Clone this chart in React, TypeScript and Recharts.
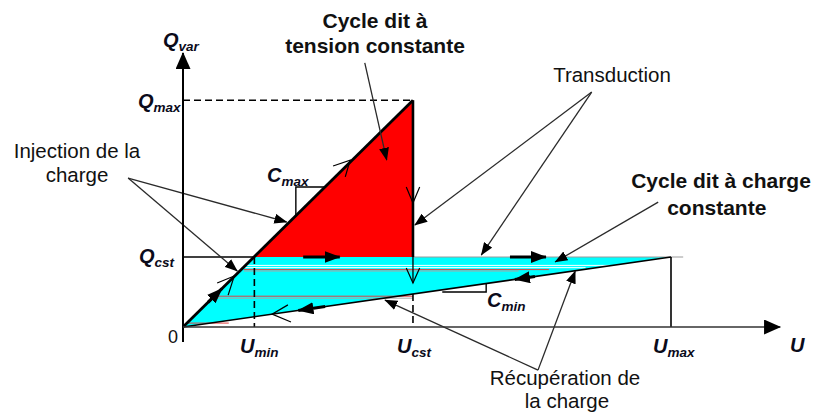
import React from "react";
import { ComposedChart, XAxis, YAxis, Area, Line, ReferenceDot } from "recharts";

// ---------- values (U : voltage, Q : charge, arbitrary units) ----------
const U_LEVELS = [1.17, 3.77, 8.0]; // Umin, Ucst, Umax
const Q_LEVELS = [2.5, 8.1]; // Qcst, Qmax

// constant-charge cycle (cyan) : range [low, high] at each U
const cyanU = [0, 1.17, 3.77, 8.0];
const cyanLow = [0, 0.37, 1.18, 2.5];
const cyanHigh = [0, 2.5, 2.5, 2.5];

// constant-voltage cycle (red)
const redU = [1.17, 3.77];
const redLow = [2.5, 2.5];
const redHigh = [2.5, 8.1];

// axes
const yAxisPts: [number, number][] = [[0, -0.54], [0, 9.79]];
const xAxisPts: [number, number][] = [[0, 0], [9.79, 0]];

// main curves
const cMaxLine: [number, number][] = [[0, 0], [3.77, 8.1]];
const cMinLine: [number, number][] = [[0, 0], [8.0, 2.5]];
const uCstThick: [number, number][] = [[3.77, 8.1], [3.77, 2.5]];
const uCstThin: [number, number][] = [[3.77, 2.5], [3.77, 1.57]];
const qCstLeft: [number, number][] = [[0, 2.5], [1.17, 2.5]];
const qCstRight: [number, number][] = [[3.77, 2.5], [8.2, 2.5]];
const uMaxLine: [number, number][] = [[8.0, 2.5], [8.0, 0]];

// dashed guides
const dashedGuides: [number, number][][] = [
  [[0, 8.1], [3.77, 8.1]],
  [[1.17, 2.5], [1.17, 0]],
  [[3.77, 1.18], [3.77, 0]],
];

// slope brackets
const brackets: [number, number][][] = [
  [[1.85, 4.0], [1.85, 5.0], [2.33, 5.0]],
  [[4.25, 1.25], [4.97, 1.25], [4.97, 1.55]],
];

// faint stripes inside the cyan region
const stripesWhite: [number, number][][] = [
  [[0.95, 2.2], [7.0, 2.2]],
  [[1.0, 2.12], [6.6, 2.12]],
];
const stripesRed: [number, number][][] = [
  [[1.0, 2.05], [6.0, 2.05]],
  [[0.56, 1.1], [3.77, 1.1]],
  [[0.05, 0.14], [0.75, 0.14]],
];
const stripesGrey: [number, number][][] = [
  [[1.0, 2.0], [5.5, 2.0]],
  [[0.56, 1.03], [3.77, 1.03]],
];

// cycle direction arrows (filled heads)
const cycleArrows: [number, number][][] = [
  [[0.41, 0.88], [0.64, 1.375]],
  [[1.97, 2.5], [2.57, 2.5]],
  [[5.36, 2.5], [5.95, 2.5]],
  [[5.77, 1.8], [5.44, 1.7]],
  [[2.33, 0.73], [1.89, 0.59]],
];

// open chevrons (arm, tip, arm)
const chevrons: [number, number][][] = [
  [[1.72, 0.79], [1.46, 0.46], [1.77, 0.18]],
  [[0.56, 1.57], [0.84, 1.82], [0.74, 1.14]],
  [[2.46, 5.75], [2.74, 5.96], [2.66, 5.36]],
  [[3.66, 5.0], [3.77, 4.43], [3.88, 5.0]],
  [[3.66, 2.11], [3.77, 1.57], [3.88, 2.11]],
];

// annotation pointers
const pointers: [number, number][][] = [
  [[2.98, 9.43], [3.34, 5.96]],
  [[6.7, 8.39], [4.89, 2.57]],
  [[6.7, 8.39], [3.8, 3.64]],
  [[7.79, 4.46], [6.1, 2.32]],
  [[-0.9, 5.32], [1.7, 3.75]],
  [[-0.9, 5.32], [0.89, 2.0]],
  [[5.82, -1.54], [3.31, 0.96]],
  [[5.82, -1.54], [6.43, 2.0]],
];

// symbol labels
const mathMain = ["Q", "Q", "Q", "U", "U", "U", "U", "C", "C"];
const mathSub = ["var", "max", "cst", "min", "cst", "max", "", "max", "min"];
const mathAnchors: [number, number][] = [
  [-0.328, 10.0], [-0.738, 7.82], [-0.721, 2.29],
  [0.934, -0.93], [3.508, -0.93], [7.705, -0.93], [9.951, -0.89],
  [1.377, 5.18], [4.984, 0.714],
];

// text labels
const textLines = [
  "Cycle dit à", "tension constante", "Transduction",
  "Cycle dit à charge", "constante", "Injection de la", "charge",
  "Récupération de", "la charge", "0",
];
const textBold = [true, true, false, true, true, false, false, false, false, false];
const textAnchors: [number, number][] = [
  [3.148, 10.68], [3.148, 9.79], [7.033, 8.75],
  [8.82, 4.96], [8.75, 4.0], [-1.738, 6.04], [-1.738, 5.18],
  [6.262, -2.07], [6.295, -2.89], [-0.164, -0.571],
];

// ---------- layout ----------
const W = 816;
const H = 416;
const X0 = 183, PXU = 61, Y0 = 327, PXQ = 28;
const xDomain: [number, number] = [-X0 / PXU, (W - X0) / PXU];
const yDomain: [number, number] = [-(H - Y0) / PXQ, Y0 / PXQ];
const FONT = "'Liberation Sans', Arial, Helvetica, sans-serif";

const chartData = cyanU.map((u, i) => {
  const j = redU.indexOf(u);
  return {
    u,
    cyan: [cyanLow[i], cyanHigh[i]],
    red: j >= 0 ? [redLow[j], redHigh[j]] : null,
  };
});

const toRows = (pts: [number, number][]) => pts.map(([u, q]) => ({ u, q }));

let lineKey = 0;
const seg = (pts: [number, number][], style: any) => (
  <Line
    key={`l${lineKey++}`}
    data={toRows(pts)}
    dataKey="q"
    type="linear"
    dot={false}
    activeDot={false}
    isAnimationActive={false}
    legendType="none"
    {...style}
  />
);

const Markers = () => (
  <svg width={0} height={0} style={{ position: "absolute", left: 0, top: 0 }}>
    <defs>
      <marker id="axisHead" viewBox="0 0 10 10" refX="9.5" refY="5" markerWidth="17" markerHeight="15"
        markerUnits="userSpaceOnUse" orient="auto" preserveAspectRatio="none">
        <path d="M0,0L10,5L0,10z" fill="#000" />
      </marker>
      <marker id="cycHead" viewBox="0 0 10 10" refX="9.5" refY="5" markerWidth="16" markerHeight="12"
        markerUnits="userSpaceOnUse" orient="auto" preserveAspectRatio="none">
        <path d="M0,0L10,5L0,10z" fill="#000" />
      </marker>
      <marker id="annHead" viewBox="0 0 10 10" refX="9.5" refY="5" markerWidth="13" markerHeight="10"
        markerUnits="userSpaceOnUse" orient="auto" preserveAspectRatio="none">
        <path d="M0,0L10,5L0,10z" fill="#000" />
      </marker>
    </defs>
  </svg>
);

export default function App() {
  lineKey = 0;
  return (
    <div style={{ position: "absolute", left: 0, top: 0, width: W, height: H, background: "#fff" }}>
      <Markers />
      <ComposedChart width={W} height={H} data={chartData} margin={{ top: 0, right: 0, bottom: 0, left: 0 }}>
        <XAxis dataKey="u" type="number" domain={xDomain} allowDataOverflow hide />
        <YAxis type="number" domain={yDomain} allowDataOverflow hide />

        <Area dataKey="red" type="linear" stroke="none" fill="#ff0000" fillOpacity={1} isAnimationActive={false} connectNulls={false} dot={false} activeDot={false} />
        <Area dataKey="cyan" type="linear" stroke="none" fill="#00ffff" fillOpacity={1} isAnimationActive={false} dot={false} activeDot={false} />

        {stripesGrey.map((p) => seg(p, { stroke: "#a8a8a8", strokeWidth: 1 }))}
        {stripesRed.map((p) => seg(p, { stroke: "#e04040", strokeWidth: 1 }))}
        {stripesWhite.map((p) => seg(p, { stroke: "#ffffff", strokeWidth: 1 }))}

        {dashedGuides.map((p) => seg(p, { stroke: "#000", strokeWidth: 1.6, strokeDasharray: "7 4" }))}

        {seg(qCstLeft, { stroke: "#000", strokeWidth: 1.6 })}
        {seg(qCstRight, { stroke: "#9a9a9a", strokeWidth: 1 })}
        {seg(uMaxLine, { stroke: "#000", strokeWidth: 1.6 })}
        {seg(cMinLine, { stroke: "#000", strokeWidth: 1.6 })}
        {seg(uCstThin, { stroke: "#000", strokeWidth: 1.3 })}
        {seg(uCstThick, { stroke: "#000", strokeWidth: 2.6 })}
        {seg(cMaxLine, { stroke: "#000", strokeWidth: 2.8 })}

        {brackets.map((p) => seg(p, { stroke: "#000", strokeWidth: 1.4 }))}

        {cycleArrows.map((p) => seg(p, { stroke: "#000", strokeWidth: 3, markerEnd: "url(#cycHead)" }))}
        {chevrons.map((p) => seg(p, { stroke: "#000", strokeWidth: 1.2 }))}
        {pointers.map((p) => seg(p, { stroke: "#2a2a2a", strokeWidth: 1.3, markerEnd: "url(#annHead)" }))}

        {seg(yAxisPts, { stroke: "#000", strokeWidth: 2, markerEnd: "url(#axisHead)" })}
        {seg(xAxisPts, { stroke: "#333", strokeWidth: 1.5, markerEnd: "url(#axisHead)" })}

        {mathAnchors.map(([u, q], i) => (
          <ReferenceDot
            key={`m${i}`}
            x={u}
            y={q}
            r={0}
            ifOverflow="visible"
            shape={(p: any) => (
              <text x={p.cx} y={p.cy} fontFamily={FONT} fontWeight="bold" fontStyle="italic" fontSize={20} fill="#0b0b1a">
                {mathMain[i]}
                {mathSub[i] ? (
                  <tspan fontSize={13.5} dy={4}>{mathSub[i]}</tspan>
                ) : null}
              </text>
            )}
          />
        ))}

        {textAnchors.map(([u, q], i) => (
          <ReferenceDot
            key={`t${i}`}
            x={u}
            y={q}
            r={0}
            ifOverflow="visible"
            shape={(p: any) => (
              <text
                x={p.cx}
                y={p.cy}
                textAnchor="middle"
                fontFamily={FONT}
                fontWeight={textBold[i] ? "bold" : "normal"}
                fontSize={textLines[i] === "0" ? 18 : textBold[i] ? 21 : 20.5}
                fill="#111"
              >
                {textLines[i]}
              </text>
            )}
          />
        ))}
      </ComposedChart>
    </div>
  );
}
